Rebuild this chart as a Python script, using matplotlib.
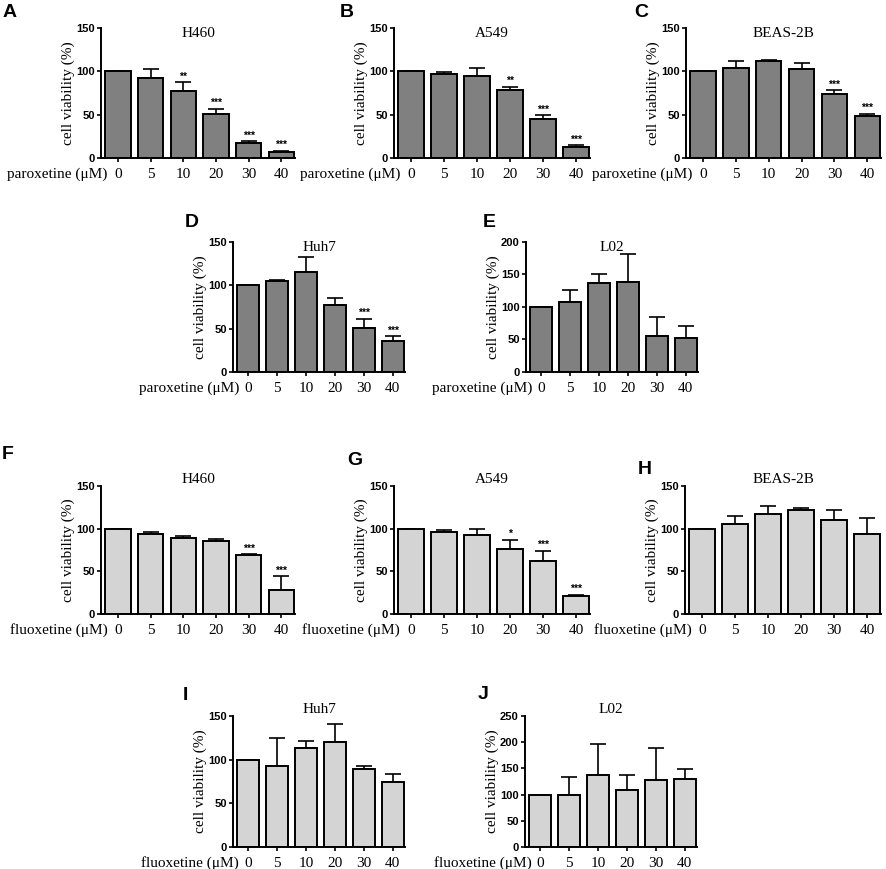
"""Cell viability after paroxetine / fluoxetine treatment, panels A-J."""
import matplotlib

matplotlib.use("Agg")
import matplotlib.pyplot as plt

plt.rcParams.update({"font.family": "Liberation Serif", "axes.linewidth": 1.4})

DOSES = ["0", "5", "10", "20", "30", "40"]

# paroxetine (dark bars)
A_MEAN = [100, 92, 77.5, 51, 17.5, 7]
A_ERR = [0, 10.5, 10, 5.5, 2, 1.2]
B_MEAN = [100, 96.5, 95, 78.5, 44.5, 12.7]
B_ERR = [0, 2.7, 9, 4, 5, 2]
C_MEAN = [100, 104, 112, 102.3, 73.8, 48.1]
C_ERR = [0, 8.5, 1.5, 7, 4.3, 2.7]
D_MEAN = [100, 105.4, 115.4, 77, 50.8, 35.4]
D_ERR = [0, 1.1, 17, 8, 10.4, 5.8]
E_MEAN = [100, 107.7, 137.4, 138.5, 55.4, 52]
E_ERR = [0, 18, 13, 43.5, 28.7, 18]

# fluoxetine (light bars)
F_MEAN = [100, 93.4, 89.5, 85.2, 69, 28]
F_ERR = [0, 2.7, 2, 2.7, 1, 16]
G_MEAN = [100, 96.2, 92.6, 75.8, 62.1, 20.7]
G_ERR = [0, 1.9, 6.6, 10.9, 12.1, 2]
H_MEAN = [100, 105.5, 117.2, 121.5, 110.2, 93.8]
H_ERR = [0, 9.7, 9.8, 2.3, 12.1, 18.7]
I_MEAN = [100, 92.6, 112.9, 119.8, 89.2, 74.2]
I_ERR = [0, 32.2, 8, 21, 3.4, 9.2]
J_MEAN = [100, 99.5, 136.5, 108.4, 128.8, 130]
J_ERR = [0, 33.2, 59.9, 28.7, 60.6, 18]

A_STARS = ["", "", "**", "***", "***", "***"]
B_STARS = ["", "", "", "**", "***", "***"]
C_STARS = ["", "", "", "", "***", "***"]
D_STARS = ["", "", "", "", "***", "***"]
F_STARS = ["", "", "", "", "***", "***"]
G_STARS = ["", "", "", "*", "***", "***"]
NONE = [""] * 6

DARK = "#808080"
LIGHT = "#d4d4d4"

W, H = 886, 869
fig = plt.figure(figsize=(W / 100, H / 100), dpi=100)


def panel(letter, lx, ly, box, title, drug, mean, err, stars, color, ymax):
    left, top, right, bottom = box
    ax = fig.add_axes([left / W, 1 - bottom / H, (right - left) / W, (bottom - top) / H])
    x = range(len(DOSES))
    ax.bar(x, mean, width=0.77, color=color, edgecolor="black", linewidth=1.4, zorder=2)
    ax.errorbar(x, mean, yerr=[[0] * len(err), err], fmt="none", ecolor="black",
                elinewidth=1.2, capsize=5.5, capthick=1.2, zorder=1)
    for xi, m, e, s in zip(x, mean, err, stars):
        if s:
            ax.annotate(s, (xi, m + e), textcoords="offset points", xytext=(0, 0.5),
                        ha="center", va="bottom", fontsize=7.5, family="Liberation Sans",
                        fontweight="bold")
    ax.set_xlim(-0.52, 5.42)
    ax.set_ylim(0, ymax)
    ax.set_yticks(range(0, ymax + 1, 50))
    ax.set_yticklabels([str(v) for v in range(0, ymax + 1, 50)],
                       family="Liberation Sans", fontweight="bold", fontsize=8)
    ax.set_xticks(list(x))
    ax.set_xticklabels(DOSES, fontsize=11)
    ax.tick_params(axis="both", length=3, width=1.2)
    ax.tick_params(axis="x", pad=4)
    ax.tick_params(axis="y", pad=1.5)
    for s in ("top", "right"):
        ax.spines[s].set_visible(False)
    ax.set_ylabel("cell viability (%)", fontsize=11, labelpad=1)
    # paroxetine titles hang just under the axis top, fluoxetine titles sit on it
    if drug == "paroxetine":
        ax.text(0.5, 1.01, title, transform=ax.transAxes, ha="center", va="top", fontsize=11)
    else:
        ax.text(0.5, 1.0, title, transform=ax.transAxes, ha="center", va="bottom", fontsize=11)
    ax.annotate(f"{drug} (\u03bcM)", (0, 0), xycoords="axes fraction", textcoords="offset points",
                xytext=(4.5, -6.6), ha="right", va="top", fontsize=11)
    fig.text(lx / W, 1 - ly / H, letter, ha="left", va="top", fontsize=14,
             family="Liberation Sans", fontweight="bold")
    return ax


P, FL = "paroxetine", "fluoxetine"
panel("A", 3, 4, (101, 28, 295, 158), "H460", P, A_MEAN, A_ERR, A_STARS, DARK, 150)
panel("B", 340, 4, (394, 28, 590, 158), "A549", P, B_MEAN, B_ERR, B_STARS, DARK, 150)
panel("C", 634, 4, (686, 28, 881, 158), "BEAS-2B", P, C_MEAN, C_ERR, C_STARS, DARK, 150)
panel("D", 185, 214, (233, 242, 405, 372), "Huh7", P, D_MEAN, D_ERR, D_STARS, DARK, 150)
panel("E", 483, 214, (526, 242, 698, 372), "L02", P, E_MEAN, E_ERR, NONE, DARK, 200)
panel("F", 2, 446, (101, 486, 295, 614), "H460", FL, F_MEAN, F_ERR, F_STARS, LIGHT, 150)
panel("G", 347, 452, (394, 486, 590, 614), "A549", FL, G_MEAN, G_ERR, G_STARS, LIGHT, 150)
panel("H", 638, 461, (685, 486, 881, 614), "BEAS-2B", FL, H_MEAN, H_ERR, NONE, LIGHT, 150)
panel("I", 183, 687, (233, 716, 405, 847), "Huh7", FL, I_MEAN, I_ERR, NONE, LIGHT, 150)
panel("J", 478, 686, (525, 716, 697, 847), "L02", FL, J_MEAN, J_ERR, NONE, LIGHT, 250)

fig.savefig("out.png", dpi=100)
